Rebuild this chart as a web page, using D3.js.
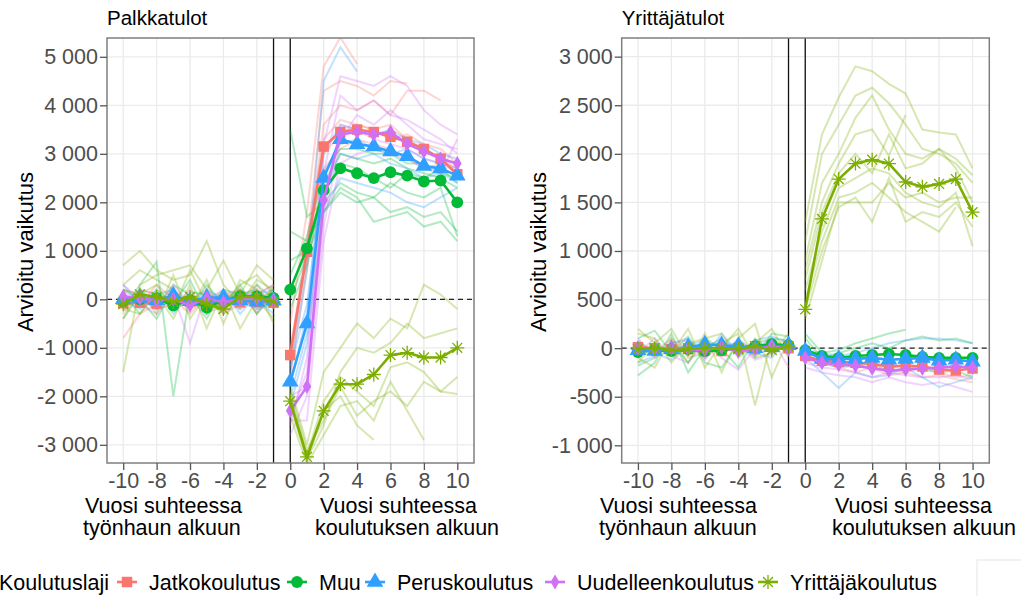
<!DOCTYPE html>
<html><head><meta charset="utf-8">
<script src="https://cdn.jsdelivr.net/npm/d3@7"></script>
<style>body{margin:0;background:#fff} text{font-family:"Liberation Sans",Arial,sans-serif}</style>
</head><body>
<svg id="c" width="1021" height="596"></svg>
<script>
// ---------------- DATA ----------------
const yearsPre = [-10,-9,-8,-7,-6,-5,-4,-3,-2,-1];
const yearsPost = [0,1,2,3,4,5,6,7,8,9,10];
const seriesNames = ["Jatkokoulutus","Muu","Peruskoulutus","Uudelleenkoulutus","Yrittäjäkoulutus"];
const seriesColors = ["#F8766D","#00BA38","#2FA0FF","#D070F5","#7CAE00"];
const seriesShapes = ["square","circle","triangle","diamond","asterisk"];
const panelTitles = ["Palkkatulot","Yrittäjätulot"];
const yTicksPalkka = [-3000,-2000,-1000,0,1000,2000,3000,4000,5000];
const yTicksYrittaja = [-1000,-500,0,500,1000,1500,2000,2500,3000];
const xTicks = [-10,-8,-6,-4,-2,0,2,4,6,8,10];
const yTitle = "Arvioitu vaikutus";
const xTitleLeft = ["Vuosi suhteessa","työnhaun alkuun"];
const xTitleRight = ["Vuosi suhteessa","koulutuksen alkuun"];
const legendTitle = "Koulutuslaji";

// Palkkatulot: main estimates
const palkkaPre = [
  [-80,-70,-90,10,-40,-80,-10,-60,-60,-70],
  [-30,0,20,-130,-20,-170,-10,60,60,30],
  [0,30,-20,80,-40,30,40,-20,-50,-30],
  [60,20,-20,0,-120,20,-60,0,20,-20],
  [-100,100,50,-50,50,-100,-200,50,50,-50]
];
const palkkaPost = [
  [-1150,980,3150,3450,3500,3450,3350,3250,3100,2900,2580],
  [200,1050,2250,2700,2600,2500,2620,2550,2430,2450,2000],
  [-1700,-500,2500,3300,3200,3150,3050,2950,2750,2700,2550],
  [-2300,-1800,2050,3400,3450,3400,3450,3200,3050,2900,2800],
  [-2100,-3250,-2300,-1750,-1750,-1550,-1150,-1100,-1200,-1200,-1000]
];
// Palkkatulot: faint subgroup estimates
const palkkaFaintPre = [
  [[-800,-300,-100,100,-200,0,200,-100,100,300],[200,100,-200,-100,100,-300,-100,200,-200,100],[-300,200,100,-200,0,200,-300,0,300,-200],[100,-100,300,0,-300,100,0,-200,0,200]],
  [[-200,300,770,-2000,150,100,-200,100,200,-100],[-400,100,-200,300,100,-400,200,100,-100,200],[100,-300,200,-100,400,-300,100,-200,300,0],[200,0,-400,200,-200,300,-100,300,-300,100]],
  [[-200,200,-100,100,-200,200,0,100,-200,-100],[300,-100,200,-300,100,-100,200,-300,100,200],[0,-200,100,200,-100,0,-200,200,0,-300]],
  [[200,-100,-300,100,-900,200,-100,0,200,-200],[-100,200,100,-200,200,-300,100,200,-300,100],[300,0,-200,300,-100,100,-300,-100,100,300]],
  [[700,1000,600,400,500,1200,300,-100,400,200],[-1500,300,500,600,700,200,800,100,700,400],[300,600,400,200,-200,400,-500,300,500,100],[-200,-300,100,-400,300,-600,200,-600,0,-400],[200,100,300,-200,600,-100,0,200,-300,300],[-400,200,-300,500,-400,100,-300,400,200,-500]]
];
const palkkaFaintPost = [
  [[-500,1800,4800,5400,4850,null,null,null,null,null,null],[-1400,1100,4300,4500,4400,4200,4500,4450,null,null,null],[-1000,900,3600,4000,3900,4100,3800,4300,4300,4100,null],[-1300,800,3000,3400,3600,3500,3300,3400,3200,3100,2800],[-1600,600,2700,3100,3300,3200,3100,2900,2700,2800,2600],[-1100,1200,3300,3700,3600,3500,3600,3300,3100,2900,2700]],
  [[3500,1700,2000,2400,2200,2100,2400,2200,2100,2300,1300],[1400,1200,1800,2300,2100,1600,1700,1800,1500,1600,1200],[800,1000,2200,2800,2700,2500,2300,2600,2500,2700,2400],[-200,700,2400,3000,2900,2800,2900,2700,2600,2500,2300],[500,1300,2600,3100,3100,3000,3000,2800,2800,2600,2500],[0,900,1800,2200,2000,2100,1800,1900,1700,1800,1400]],
  [[-1500,600,4500,5200,4700,null,null,null,null,null,null],[-1800,-300,3000,3600,3500,3400,3500,3300,3200,3000,2900],[-2000,-700,2200,3000,2900,3000,2800,2700,2500,2600,2400],[-1400,-100,2600,3200,3300,3100,3000,3100,2900,2800,2700],[-2200,-900,1800,2500,2400,2300,2200,2000,1900,2100,2300]],
  [[-2600,-1200,3200,4600,4500,4400,4600,4400,3900,3600,3400],[-2400,-1500,2600,4200,3900,4100,3800,3700,3500,3300,3000],[-2800,-2000,1500,3300,3800,3600,3900,3600,3300,3200,3100],[-2000,-1800,1800,3600,3500,3300,3200,3100,2900,2800,2700],[-2500,-2500,1200,2800,3000,3100,3000,2900,2700,2600,3300]],
  [[-1800,-3000,-1500,-1000,-500,-800,-400,-600,300,100,-200],[-2200,-3300,-2600,-1500,-1000,-1100,-900,-500,-800,-700,-600],[-2000,-3200,-2100,-1600,-1900,-2200,-1400,-1300,-1500,-1900,-1600],[-2400,-3400,-2800,-2200,-2100,-2500,-1700,-2300,-2900,null,null],[-2100,-3300,-2300,-2000,-2600,-2900,null,null,null,null,null],[-1900,-3100,-2500,-1800,-2400,-2100,-1900,-2200,-1700,-1900,-1950]]
];

// Yrittäjätulot: main estimates
const yrittajaPre = [
  [10,0,-10,0,-20,-30,0,-10,20,0],
  [-40,-20,-30,-10,-30,-20,10,20,40,30],
  [-20,-30,-10,10,40,30,20,0,10,30],
  [0,-10,0,-10,-20,10,-30,-10,20,-10],
  [-10,0,-20,-10,0,0,-10,20,-20,20]
];
const yrittajaPost = [
  [-80,-130,-140,-150,-160,-190,-180,-190,-220,-230,-210],
  [-20,-80,-100,-80,-70,-60,-70,-90,-100,-100,-100],
  [-30,-110,-110,-110,-100,-120,-110,-100,-130,-120,-140],
  [-100,-150,-170,-180,-210,-230,-220,-210,-200,-190,-200],
  [400,1330,1740,1900,1940,1900,1710,1660,1690,1740,1400]
];
const yrittajaFaintPre = [
  [[50,-50,100,-80,30,-60,80,-40,60,-30],[-100,30,-50,60,-100,50,-30,70,-60,40]],
  [[-280,-150,150,-250,0,100,-80,50,100,80],[100,180,-50,120,-150,-200,50,-100,150,120],[-180,-100,50,-150,100,0,-200,100,-50,60]],
  [[-150,-80,50,100,-100,150,-50,80,120,60],[80,-50,-120,30,80,-80,100,-50,-100,100]],
  [[-50,100,-80,-150,50,-100,-220,0,100,-200],[100,-100,50,80,-120,60,30,-120,-60,50]],
  [[200,50,-50,200,-200,50,150,-590,100,-30],[-100,-200,100,-150,150,-250,100,250,-300,100],[150,100,-150,50,100,150,-100,50,200,-100],[-150,50,200,-100,-50,0,200,-100,-50,150]]
];
const yrittajaFaintPost = [
  [[-100,-150,-200,-250,-200,-280,-250,-300,-280,-320,-350],[-50,-100,-180,-150,-200,-220,-250,-200,-250,-300,-280]],
  [[150,-50,-20,50,100,150,190,null,null,null,null],[100,-100,-50,0,50,0,80,120,80,100,50],[-80,-150,-200,-180,-150,-250,-200,-220,-250,-230,-300]],
  [[-20,-50,-80,-50,0,50,80,100,100,80,50],[-100,-250,-410,-250,-300,-280,-200,-300,-400,-350,-300]],
  [[-200,-250,-280,-300,-350,-300,-350,-380,-350,-400,-450],[-150,-200,-220,-250,-300,-250,-280,-300,-300,-280,-320]],
  [[1300,2200,2580,2900,2850,2720,2620,2250,2220,2200,1850],[1100,2000,2300,2600,2680,2520,2300,2050,2000,1900,1700],[900,1700,2000,2370,2600,2250,2000,1950,2050,1950,1780],[800,1500,1900,2200,2250,1980,2400,null,null,null,null],[700,1400,1800,2000,1800,2200,1850,1900,2050,1850,1500],[600,1200,1650,1750,1850,1800,1600,1500,1450,1600,1050],[500,1100,1550,1600,1700,1550,1400,1300,1200,1450,null],[400,1000,1450,1550,1300,1750,1300,1400,1350,1500,1250],[300,900,1500,1500,1500,1700,1550,1600,1500,1550,1550]]
];

// ---------------- DRAW ----------------
const svg = d3.select("#c");
const fmt = d3.formatLocale({decimal:",",thousands:"\u00a0",grouping:[3],currency:["",""],minus:"-"}).format(",d");

const panels = [
  {title:panelTitles[0], left:107, right:474, yDomain:[-3375,5388], yTicks:yTicksPalkka,
   pre:palkkaPre, post:palkkaPost, fpre:palkkaFaintPre, fpost:palkkaFaintPost,
   yTitleX:33, xt1:xTitleLeft, xt2:xTitleRight, xt1x:[85,83], xt2x:[320,315]},
  {title:panelTitles[1], left:621.7, right:989.3, yDomain:[-1182,3192], yTicks:yTicksYrittaja,
   pre:yrittajaPre, post:yrittajaPost, fpre:yrittajaFaintPre, fpost:yrittajaFaintPost,
   yTitleX:546, xt1:xTitleLeft, xt2:xTitleRight, xt1x:[600,599], xt2x:[835,832]}
];
const TOP = 38, BOTTOM = 463;

function asteriskPath(s){
  const r = s/2, d = r*Math.SQRT1_2;
  return `M${-r},0L${r},0M0,${-r}L0,${r}M${-d},${-d}L${d},${d}M${-d},${d}L${d},${-d}`;
}
function drawMarker(g, shape, color, cx, cy){
  if (shape === "asterisk") {
    g.append("path").attr("d", asteriskPath(14)).attr("transform",`translate(${cx},${cy})`)
      .attr("stroke", color).attr("stroke-width",1.3).attr("fill","none");
    return;
  }
  const map = {square:[d3.symbolSquare,110], circle:[d3.symbolCircle,110], triangle:[d3.symbolTriangle,120], diamond:[d3.symbolDiamond,65]};
  const [t, size] = map[shape];
  g.append("path").attr("d", d3.symbol().type(t).size(size)()).attr("transform",`translate(${cx},${cy})`)
    .attr("fill", color);
}

panels.forEach((p, pi) => {
  const x = d3.scaleLinear().domain([-10.97, 11]).range([p.left, p.right]);
  const y = d3.scaleLinear().domain(p.yDomain).range([BOTTOM, TOP]);
  const g = svg.append("g");
  const clipId = "clip" + pi;
  svg.append("clipPath").attr("id", clipId).append("rect")
    .attr("x", p.left).attr("y", TOP).attr("width", p.right - p.left).attr("height", BOTTOM - TOP);

  // grid
  g.selectAll(".gx").data(xTicks).enter().append("line")
    .attr("x1", d=>x(d)).attr("x2", d=>x(d)).attr("y1", TOP).attr("y2", BOTTOM)
    .attr("stroke", "#ebebeb").attr("stroke-width", 1.3);
  g.selectAll(".gy").data(p.yTicks).enter().append("line")
    .attr("y1", d=>y(d)).attr("y2", d=>y(d)).attr("x1", p.left).attr("x2", p.right)
    .attr("stroke", "#ebebeb").attr("stroke-width", 1.3);

  const plot = g.append("g").attr("clip-path", `url(#${clipId})`);
  // reference lines
  plot.append("line").attr("x1", p.left).attr("x2", p.right).attr("y1", y(0)).attr("y2", y(0))
    .attr("stroke", "#222").attr("stroke-width", 1.2).attr("stroke-dasharray", "5,4");
  [-1, 0].forEach(v => plot.append("line").attr("x1", x(v)).attr("x2", x(v)).attr("y1", TOP).attr("y2", BOTTOM)
    .attr("stroke", "#111").attr("stroke-width", 1.3));

  const line = (xs) => d3.line().defined(d => d != null).x((d,i) => x(xs[i])).y(d => y(d));

  // faint lines
  seriesNames.forEach((s, si) => {
    p.fpre[si].forEach(arr => plot.append("path").attr("d", line(yearsPre)(arr))
      .attr("fill","none").attr("stroke", seriesColors[si]).attr("stroke-opacity", 0.3).attr("stroke-width", 2));
    p.fpost[si].forEach(arr => plot.append("path").attr("d", line(yearsPost)(arr))
      .attr("fill","none").attr("stroke", seriesColors[si]).attr("stroke-opacity", 0.3).attr("stroke-width", 2));
  });
  // main lines + markers
  seriesNames.forEach((s, si) => {
    [[yearsPre, p.pre[si]], [yearsPost, p.post[si]]].forEach(([xs, arr]) => {
      plot.append("path").attr("d", line(xs)(arr)).attr("fill","none")
        .attr("stroke", seriesColors[si]).attr("stroke-width", 2.6).attr("stroke-linejoin","round");
      arr.forEach((v, i) => drawMarker(plot, seriesShapes[si], seriesColors[si], x(xs[i]), y(v)));
    });
  });

  // border
  g.append("rect").attr("x", p.left).attr("y", TOP).attr("width", p.right - p.left).attr("height", BOTTOM - TOP)
    .attr("fill","none").attr("stroke","#7f7f7f").attr("stroke-width",1.5);

  // axes
  const ya = g.append("g").attr("transform", `translate(${p.left},0)`)
    .call(d3.axisLeft(y).tickValues(p.yTicks).tickFormat(fmt).tickSize(7).tickPadding(2));
  const xa = g.append("g").attr("transform", `translate(0,${BOTTOM})`)
    .call(d3.axisBottom(x).tickValues(xTicks).tickFormat(d=>String(d)).tickSize(7).tickPadding(3));
  [ya, xa].forEach(a => {
    a.select(".domain").remove();
    a.selectAll(".tick line").attr("stroke","#555").attr("stroke-width",1.3);
    a.selectAll(".tick text").attr("fill","#4d4d4d").style("font-size","21.5px").style("font-family",'"Liberation Sans",Arial,sans-serif');
  });

  // titles
  g.append("text").attr("x", p.left).attr("y", 25).text(p.title).style("font-size","20.5px").attr("fill","#000");
  g.append("text").attr("transform", `translate(${p.yTitleX},252) rotate(-90)`).attr("text-anchor","middle")
    .text(yTitle).style("font-size","22px").attr("fill","#000");
  [[p.xt1, p.xt1x], [p.xt2, p.xt2x]].forEach(([lines, xs]) => {
    const t = g.append("text").attr("y", 513).style("font-size","21.5px").attr("fill","#000");
    lines.forEach((s, i) => t.append("tspan").attr("x", xs[i]).attr("dy", i === 0 ? 0 : 22).text(s));
  });
});

// legend
const lg = svg.append("g");
const LY = 582;
lg.append("text").attr("x", -1).attr("y", LY + 7.5).text(legendTitle).style("font-size","21.5px");
const legendTextX = [149, 319, 397, 577, 790];
seriesNames.forEach((s, si) => {
  const kx = legendTextX[si] - 22;
  lg.append("line").attr("x1", kx - 10).attr("x2", kx + 10).attr("y1", LY).attr("y2", LY)
    .attr("stroke", seriesColors[si]).attr("stroke-width", 2.6);
  drawMarker(lg, seriesShapes[si], seriesColors[si], kx, LY);
  lg.append("text").attr("x", legendTextX[si]).attr("y", LY + 7.5).text(s).style("font-size","21.5px");
});
lg.append("rect").attr("x", 977).attr("y", 560).attr("width", 50).attr("height", 40)
  .attr("fill","#fff").attr("stroke","#e6e6e6").attr("stroke-width",1);
</script>
</body></html>
